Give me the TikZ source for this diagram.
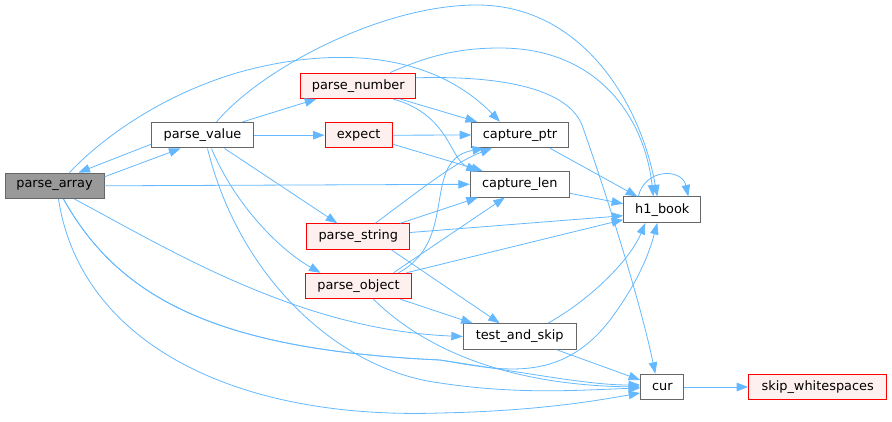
\documentclass[tikz,border=0pt]{standalone}
\usepackage{fontspec}
\setmainfont{DejaVu Sans}
\usetikzlibrary{arrows.meta}
\definecolor{edgeblue}{HTML}{63B8FF}
\definecolor{nodegrey}{HTML}{666666}
\definecolor{rootfill}{HTML}{999999}
\definecolor{redfill}{HTML}{FFF0F0}
\begin{document}
\begin{tikzpicture}[x=1pt,y=-1pt,
  fn/.style={draw=nodegrey, line width=1pt, fill=white, inner sep=0pt,
    minimum height=25.5pt, font=\fontsize{12.9}{15}\selectfont, text=black},
  rootfn/.style={fn, fill=rootfill},
  redfn/.style={fn, draw=red, fill=redfill},
  call/.style={draw=edgeblue, line width=0.8pt, -{Triangle[length=11.5pt,width=8.5pt]}}
]
\useasboundingbox (0,0) rectangle (892,421);
\node[rootfn, minimum width=99pt]   (pa) at (54.5,185.8) {parse\_array};
\node[fn,     minimum width=101.6pt] (pv) at (202.5,135.2) {parse\_value};
\node[redfn,  minimum width=114.7pt] (pn) at (358.3,85.8) {parse\_number};
\node[redfn,  minimum width=67.3pt]  (ex) at (358.7,135.2) {expect};
\node[redfn,  minimum width=102.7pt] (ps) at (358.3,236.5) {parse\_string};
\node[redfn,  minimum width=105.6pt] (po) at (358.5,286) {parse\_object};
\node[fn,     minimum width=96.6pt]  (cp) at (520,135) {capture\_ptr};
\node[fn,     minimum width=99pt]    (cl) at (519.8,184.3) {capture\_len};
\node[fn,     minimum width=77.3pt]  (hb) at (662.3,209.7) {h1\_book};
\node[fn,     minimum width=112.7pt] (ts) at (519.7,336.5) {test\_and\_skip};
\node[fn,     minimum width=43.3pt]  (cu) at (662.3,387) {cur};
\node[redfn,  minimum width=138pt]   (sw) at (817.7,387) {skip\_whitespaces};

% parse_array calls
\draw[call] ([yshift=9pt]pa.east) -- ([xshift=-22pt]pv.south);
\draw[call] ([xshift=15pt]pa.north) .. controls (100,140) and (160,95) .. (240,72)
  .. controls (330,47) and (430,50) .. ([xshift=-20pt]cp.north);
\draw[call] (pa.east) -- (cl.west);
\draw[call] ([xshift=20pt]pa.south) .. controls (170,250) and (300,330) .. (ts.west);
\draw[call] ([xshift=9pt]pa.south) .. controls (120,300) and (220,350) .. (440,360)
  .. controls (500,370) and (560,385) .. (610,320)
  .. controls (640,280) and (650,250) .. ([xshift=-5pt]hb.south);
\draw[call] ([xshift=9pt]pa.south) .. controls (120,300) and (220,350) .. (440,360)
  .. controls (540,375) and (590,385) .. ([yshift=2pt]cu.west);
\draw[call] ([xshift=4pt]pa.south) .. controls (80,340) and (230,420) .. (440,413)
  .. controls (540,411) and (600,400) .. ([yshift=-6pt]cu.west);

% parse_value calls
\draw[call] ([yshift=-9pt]pv.west) -- ([xshift=24pt]pa.north);
\draw[call] ([xshift=40pt]pv.north) -- ([xshift=-42pt]pn.south);
\draw[call] (pv.east) -- (ex.west);
\draw[call] ([xshift=22pt]pv.south) -- ([xshift=-21pt]ps.north);
\draw[call] ([xshift=9pt]pv.south) .. controls (235,205) and (280,250) .. ([xshift=-38pt]po.north);
\draw[call] ([xshift=14pt]pv.north) .. controls (260,70) and (380,5) .. (477,5)
  .. controls (580,5) and (640,100) .. ([xshift=-5pt]hb.north);
\draw[call] ([xshift=5pt]pv.south) .. controls (240,280) and (340,370) .. (440,383)
  .. controls (520,395) and (580,390) .. ([yshift=-1pt]cu.west);

% parse_number calls
\draw[call] ([xshift=42pt]pn.south) -- ([xshift=-43pt]cp.north);
\draw[call] ([xshift=35pt]pn.south) .. controls (450,115) and (450,160) .. ([xshift=-42pt]cl.north);
\draw[call] ([xshift=32pt]pn.north) .. controls (430,55) and (460,48) .. (500,48)
  .. controls (600,48) and (645,120) .. ([xshift=-9pt]hb.north);
\draw[call] ([yshift=8pt]pn.east) .. controls (520,75) and (570,95) .. (582,125)
  .. controls (605,190) and (640,300) .. ([xshift=-7pt]cu.north);

% expect calls
\draw[call] (ex.east) -- (cp.west);
\draw[call] ([yshift=-9pt]ex.east) -- ([xshift=-37pt]cl.north);

% parse_string calls
\draw[call] ([xshift=17pt]ps.north) .. controls (420,190) and (455,162) .. ([xshift=-28pt]cp.south);
\draw[call] ([xshift=42pt]ps.north) -- ([xshift=-42pt]cl.south);
\draw[call] ([yshift=4pt]ps.east) -- ([yshift=-6pt]hb.west);
\draw[call] ([xshift=33pt]ps.south) -- ([xshift=-20pt]ts.north);

% parse_object calls
\draw[call] ([xshift=40pt]po.north) .. controls (460,240) and (420,160) .. ([xshift=-36pt]cp.south);
\draw[call] ([xshift=35pt]po.north) -- ([xshift=-15pt]cl.south);
\draw[call] ([xshift=48pt]po.north) -- ([yshift=-10pt]hb.west);
\draw[call] ([xshift=42pt]po.south) -- ([xshift=-47pt]ts.north);
\draw[call] ([xshift=15pt]po.south) .. controls (420,345) and (500,385) .. (cu.west);

% others
\draw[call] ([xshift=28pt]ts.north) .. controls (590,300) and (630,260) .. ([xshift=-17pt]hb.south);
\draw[call] ([xshift=37pt]ts.south) -- ([yshift=7pt]cu.west);
\draw[call] ([xshift=30pt]cp.south) -- ([xshift=-25pt]hb.north);
\draw[call] ([yshift=-9pt]cl.east) -- ([yshift=6pt]hb.west);
\draw[call] ([xshift=-24pt]hb.north) .. controls (645,168) and (682,168) .. ([xshift=26pt]hb.north);
\draw[call] (cu.east) -- (sw.west);
\end{tikzpicture}
\end{document}
